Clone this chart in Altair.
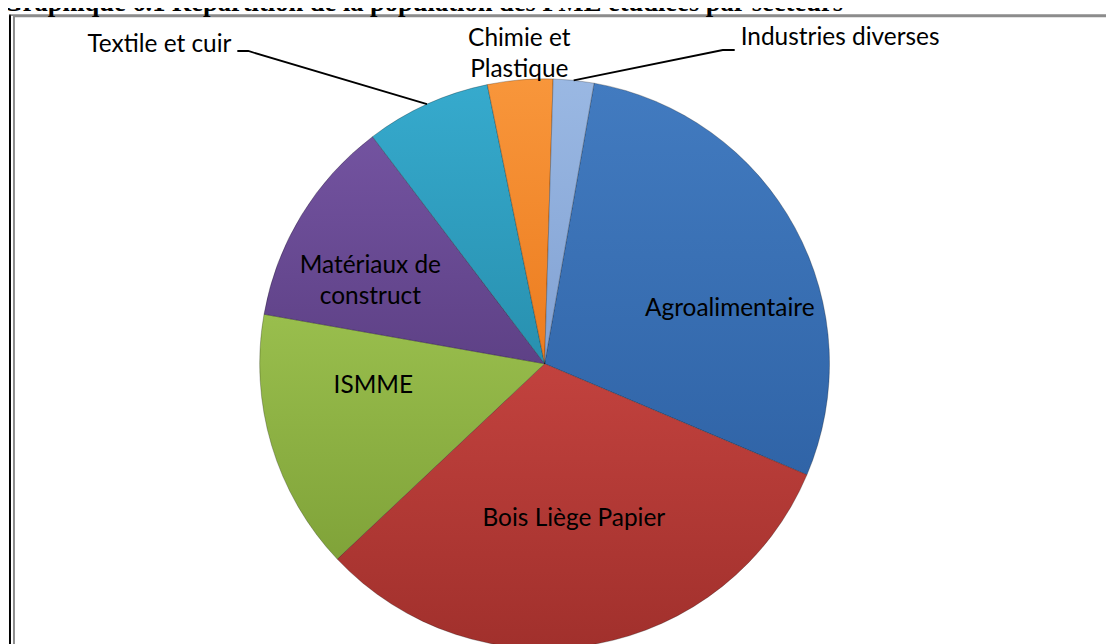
import math
import altair as alt
import pandas as pd

# ---------------- data ----------------
sectors = ["Agroalimentaire", "Bois Liège Papier", "ISMME", "Matériaux de construct",
           "Textile et cuir", "Chimie et Plastique", "Industries diverses"]
shares = [28.6, 31.6, 14.8, 11.9, 7.1, 3.7, 2.3]
label_text = ["Agroalimentaire", "Bois Liège Papier", "ISMME", "Matériaux de\nconstruct",
              "Textile et cuir", "Chimie et\nPlastique", "Industries diverses"]
title_text = "Graphique 6.1 Répartition de la population des PME étudiées par secteurs"

# ---------------- styles / layout ----------------
W, H = 1106, 636
CX, CY, R = 540.5, 356.0, 287.0
START_DEG = 10.0
START = math.radians(START_DEG)
grad_top = ["#427bc0", "#c2423e", "#99be4d", "#7353a0", "#36aacd", "#f8963b", "#9ab8e3"]
grad_bot = ["#3064a7", "#a1302c", "#80a339", "#5e4186", "#2890af", "#ec7c1f", "#82a2d3"]
LABEL_FONT = "Lato"
LABEL_SIZE = 24.6
# label anchor (svg px), alignment; inside labels centred, outside left-aligned
label_layout = {
    "Agroalimentaire": (727, 308, "center"),
    "Bois Liège Papier": (570, 519, "center"),
    "ISMME": (368, 385, "center"),
    "Matériaux de construct": (365, 265, "center"),
    "Textile et cuir": (80, 42, "left"),
    "Chimie et Plastique": (515, 36, "center"),
    "Industries diverses": (738, 35, "left"),
}
# leader line start points (svg px) for outside labels
leader_start = {
    "Textile et cuir": [(231, 41), (242, 41)],
    "Industries diverses": [(732, 40), (720, 40)],
}

# ---------------- derived table ----------------
total = sum(shares)
cum = []
acc = 0.0
for s in shares:
    cum.append((acc, acc + s))
    acc += s
df = pd.DataFrame({
    "sector": sectors,
    "share": shares,
    "ord": list(range(len(sectors))),
    "v0": [c[0] for c in cum],
    "v1": [c[1] for c in cum],
})

theta_scale = alt.Scale(domain=[0, total], range=[START, START + 2 * math.pi])

arc_layers = []
for i, sec in enumerate(sectors):
    grad = alt.LinearGradient(
        gradient="linear",
        stops=[alt.GradientStop(color=grad_top[i], offset=0),
               alt.GradientStop(color=grad_bot[i], offset=1)],
        x1=0, x2=0, y1=0, y2=1,
    )
    arc_layers.append(
        alt.Chart(df)
        .transform_filter(alt.datum.ord == i)
        .mark_arc(color=grad, radius=R, stroke="#000000", strokeOpacity=0.25, strokeWidth=1)
        .encode(
            theta=alt.Theta("v0:Q", scale=theta_scale),
            theta2="v1:Q",
            x=alt.value(CX),
            y=alt.value(CY),
        )
    )

# labels
lab_rows = []
for sec, txt in zip(sectors, label_text):
    x, y, al = label_layout[sec]
    lab_rows.append({"sector": sec, "label": txt, "lx": x, "ly": y, "al": al})
lab_df = pd.DataFrame(lab_rows)

def text_layer(align):
    return (
        alt.Chart(lab_df)
        .transform_filter(alt.datum.al == align)
        .mark_text(font=LABEL_FONT, fontSize=LABEL_SIZE, color="black", align=align,
                   baseline="alphabetic", lineBreak="\n", lineHeight=31)
        .encode(
            x=alt.X("lx:Q", scale=None, axis=None),
            y=alt.Y("ly:Q", scale=None, axis=None),
            text="label:N",
        )
    )

# leader lines: from label to arc edge at the slice's mid-angle
line_rows = []
for sec, pts in leader_start.items():
    i = sectors.index(sec)
    mid = START + 2 * math.pi * (cum[i][0] + cum[i][1]) / 2 / total
    edge = (CX + R * math.sin(mid), CY - R * math.cos(mid))
    for k, p in enumerate(pts + [edge]):
        line_rows.append({"sector": sec, "k": k, "px": p[0], "py": p[1]})
line_df = pd.DataFrame(line_rows)
leaders = (
    alt.Chart(line_df)
    .mark_line(color="black", strokeWidth=1.8)
    .encode(
        x=alt.X("px:Q", scale=None, axis=None),
        y=alt.Y("py:Q", scale=None, axis=None),
        detail="sector:N",
        order="k:Q",
    )
)

dummy = pd.DataFrame({"a": [0]})
frame_black_v = alt.Chart(dummy).mark_rule(color="black", strokeWidth=2).encode(
    x=alt.value(2), y=alt.value(4.5), y2=alt.value(H + 20))
frame_black_h = alt.Chart(dummy).mark_rule(color="#333333", strokeWidth=1).encode(
    x=alt.value(1), x2=alt.value(W + 20), y=alt.value(4.8))
frame_gray_v = alt.Chart(dummy).mark_rule(color="#8c8c8c", strokeWidth=2).encode(
    x=alt.value(6), y=alt.value(6), y2=alt.value(H + 20))
frame_gray_h = alt.Chart(dummy).mark_rule(color="#8c8c8c", strokeWidth=1.6).encode(
    x=alt.value(5), x2=alt.value(W + 20), y=alt.value(6.2))

title = alt.Chart(dummy).mark_text(
    font="Liberation Serif", fontSize=26.7, fontWeight="bold", color="black",
    align="left", baseline="alphabetic",
).encode(x=alt.value(-6), y=alt.value(1), text=alt.value(title_text))

chart = alt.layer(
    frame_black_v, frame_black_h, frame_gray_v, frame_gray_h,
    *arc_layers,
    leaders,
    text_layer("center"), text_layer("left"),
    title,
).properties(width=W, height=H, padding=0, autosize="none").configure_view(stroke=None)

chart.save("out.html", embed_options={"renderer": "svg", "actions": False})
